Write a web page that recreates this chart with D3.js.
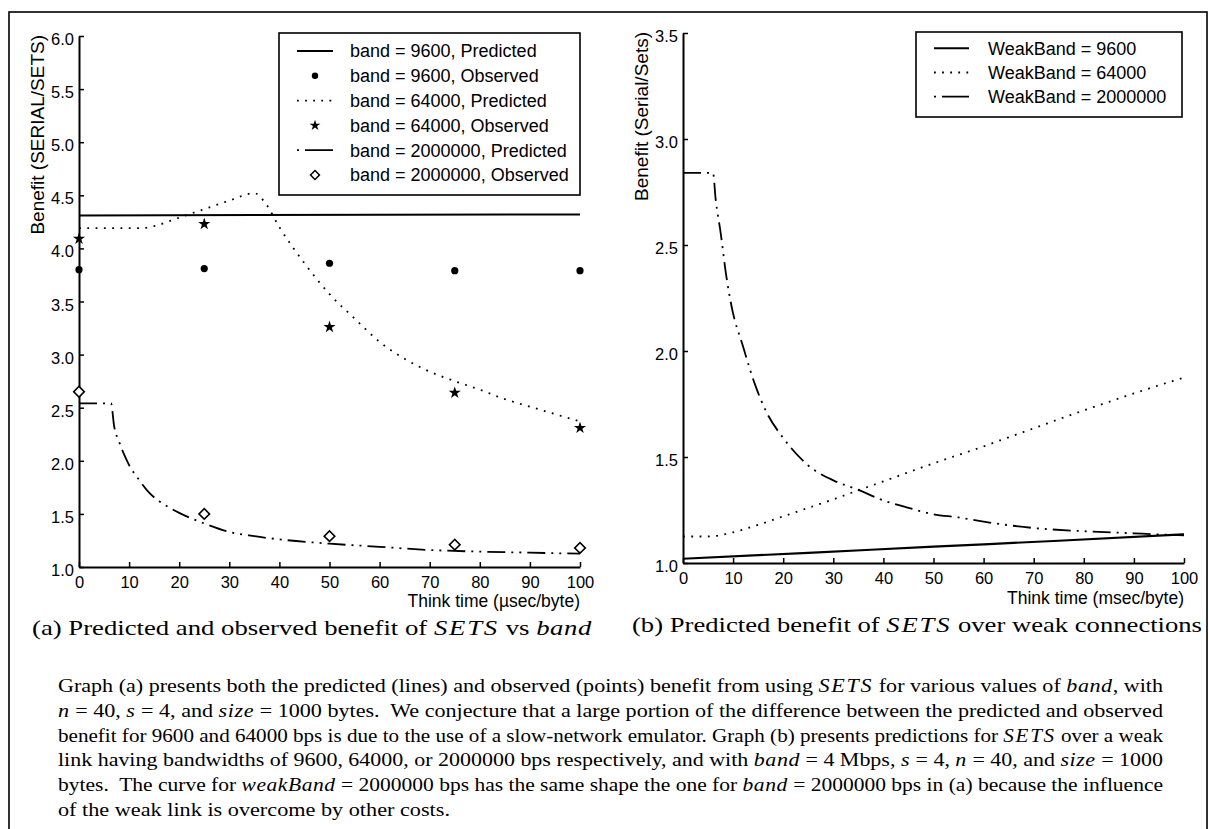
<!DOCTYPE html>
<html><head><meta charset="utf-8">
<script src="https://cdn.jsdelivr.net/npm/d3@7"></script>
<style>body{margin:0;background:#fff} svg{display:block}</style>
</head><body>
<script>
// ---------- DATA : graph (a) ----------
const obsThink      = [0, 25, 50, 75, 100];
const obs9600       = [3.80, 3.81, 3.86, 3.79, 3.79];
const obs64000      = [4.09, 4.23, 3.26, 2.64, 2.31];
const obs2000000    = [2.65, 1.50, 1.29, 1.21, 1.18];

const pred9600T     = [0, 100];
const pred9600      = [4.31, 4.32];
const pred64000T    = [0, 5, 10, 12.5, 15, 20, 25, 30, 35, 37, 40, 45, 50, 55, 60, 65, 70, 75, 80, 85, 90, 95, 100];
const pred64000     = [4.19, 4.19, 4.19, 4.19, 4.21, 4.29, 4.37, 4.45, 4.52, 4.44, 4.20, 3.86, 3.57, 3.34, 3.12, 2.96, 2.84, 2.75, 2.67, 2.58, 2.51, 2.44, 2.37];
const pred2000000T  = [0, 6.4, 7, 8, 9, 10, 12, 14, 16, 18, 20, 25, 30, 35, 40, 50, 60, 70, 80, 90, 100];
const pred2000000   = [2.54, 2.54, 2.33, 2.18, 2.06, 1.96, 1.82, 1.70, 1.62, 1.56, 1.51, 1.41, 1.33, 1.29, 1.26, 1.22, 1.19, 1.16, 1.145, 1.135, 1.125];

// ---------- DATA : graph (b) ----------
const weak9600T     = [0, 25, 50, 75, 100];
const weak9600      = [1.02, 1.048, 1.077, 1.105, 1.135];
const weak64000T    = [0, 5, 10, 15, 20, 25, 30, 35, 40, 45, 50, 55, 60, 65, 70, 75, 80, 85, 90, 95, 100];
const weak64000     = [1.125, 1.125, 1.145, 1.18, 1.22, 1.26, 1.30, 1.343, 1.385, 1.428, 1.47, 1.51, 1.55, 1.593, 1.635, 1.678, 1.72, 1.76, 1.80, 1.838, 1.875];
const weak2000000T  = [0, 6, 6.5, 7.5, 8.6, 9.7, 12, 14.4, 16.7, 20, 25, 30, 35, 40, 45, 50, 55, 60, 70, 80, 90, 100];
const weak2000000   = [2.84, 2.84, 2.72, 2.56, 2.36, 2.21, 2.02, 1.84, 1.71, 1.59, 1.46, 1.39, 1.345, 1.295, 1.26, 1.23, 1.215, 1.195, 1.165, 1.15, 1.14, 1.13];

// ---------- TICKS / LABELS ----------
const xTickValues  = [0, 10, 20, 30, 40, 50, 60, 70, 80, 90, 100];
const yTickValuesA = [1.0, 1.5, 2.0, 2.5, 3.0, 3.5, 4.0, 4.5, 5.0, 5.5, 6.0];
const yTickValuesB = [1.0, 1.5, 2.0, 2.5, 3.0, 3.5];
const yTitleA = "Benefit (SERIAL/SETS)";
const yTitleB = "Benefit (Serial/Sets)";
const xTitleA = "Think time (\u00B5sec/byte)";
const xTitleB = "Think time (msec/byte)";
const legendA = ["band = 9600, Predicted", "band = 9600, Observed", "band = 64000, Predicted",
                 "band = 64000, Observed", "band = 2000000, Predicted", "band = 2000000, Observed"];
const legendB = ["WeakBand = 9600", "WeakBand = 64000", "WeakBand = 2000000"];
const captionA = "(a) Predicted and observed benefit of *SETS* vs *band*";
const captionB = "(b) Predicted benefit of *SETS* over weak connections";
const paragraph = [
  "Graph (a) presents both the predicted (lines) and observed (points) benefit from using *SETS* for various values of *band*, with",
  "*n* = 40, *s* = 4, and *size* = 1000 bytes.  We conjecture that a large portion of the difference between the predicted and observed",
  "benefit for 9600 and 64000 bps is due to the use of a slow-network emulator. Graph (b) presents predictions for *SETS* over a weak",
  "link having bandwidths of 9600, 64000, or 2000000 bps respectively, and with *band* = 4 Mbps, *s* = 4, *n* = 40, and *size* = 1000",
  "bytes.  The curve for *weakBand* = 2000000 bps has the same shape the one for *band* = 2000000 bps in (a) because the influence",
  "of the weak link is overcome by other costs."
];

// ---------- DRAWING ----------
const W = 1209, H = 829;
const SANS = "'Liberation Sans', Arial, Helvetica, sans-serif";
const SERIF = "'Liberation Serif', 'Times New Roman', serif";
const DOT = "1.8,6.5", DASHDOT = "18,6,2,6,2,6";

const svg = d3.select("body").append("svg").attr("width", W).attr("height", H);

// outer frame
svg.append("rect").attr("x", 9).attr("y", 12).attr("width", 1198).attr("height", 840)
  .attr("fill", "none").attr("stroke", "#000").attr("stroke-width", 1.6);

const xA = d3.scaleLinear([0, 100], [79, 580]);
const yA = d3.scaleLinear([1, 6], [567, 36]);
const xB = d3.scaleLinear([0, 100], [683, 1184]);
const yB = d3.scaleLinear([1, 3.5], [563, 33]);

function axes(x, y, yTicks, yTitle, xTitle, yTitleX, xTitleBase) {
  const gy = svg.append("g").attr("transform", `translate(${x.range()[0]},0)`)
    .call(d3.axisLeft(y).tickValues(yTicks).tickSize(-5).tickSizeOuter(0).tickPadding(5).tickFormat(d3.format(".1f")));
  const gx = svg.append("g").attr("transform", `translate(0,${y.range()[0]})`)
    .call(d3.axisBottom(x).tickValues(xTickValues).tickSize(-5).tickSizeOuter(0).tickPadding(9).tickFormat(d3.format("d")));
  [gy, gx].forEach(g => {
    g.attr("font-family", SANS).attr("font-size", 16.5);
    g.select(".domain").attr("stroke-width", 2);
    g.selectAll(".tick line").attr("stroke-width", 1.5);
    g.selectAll("text").attr("fill", "#000");
  });
  gy.selectAll("text").attr("dy", "0.52em");
  svg.append("text").attr("transform", `translate(${yTitleX},${y.range()[1] - 1}) rotate(-90)`)
    .attr("text-anchor", "end").attr("font-family", SANS).attr("font-size", 19).text(yTitle);
  svg.append("text").attr("x", x.range()[1]).attr("y", xTitleBase).attr("text-anchor", "end")
    .attr("font-family", SANS).attr("font-size", 17.5).text(xTitle);
}
axes(xA, yA, yTickValuesA, yTitleA, xTitleA, 44, 607);
axes(xB, yB, yTickValuesB, yTitleB, xTitleB, 648, 604);

function curve(x, y, ts, vs, dash, w) {
  const line = d3.line().x(d => x(d[0])).y(d => y(d[1])).curve(d3.curveMonotoneX);
  svg.append("path").attr("d", line(d3.zip(ts, vs))).attr("fill", "none").attr("stroke", "#000")
    .attr("stroke-width", w).attr("stroke-dasharray", dash);
}
const starSym = d3.symbol(d3.symbolStar, 46);
const diaSym = d3.symbol(d3.symbolSquare, 56);
function markers(x, y, ts, vs, kind) {
  const g = svg.append("g");
  const pts = d3.zip(ts, vs);
  if (kind === "dot") {
    g.selectAll("circle").data(pts).join("circle").attr("cx", d => x(d[0])).attr("cy", d => y(d[1])).attr("r", 3.6);
  } else if (kind === "star") {
    g.selectAll("path").data(pts).join("path").attr("d", starSym)
      .attr("transform", d => `translate(${x(d[0])},${y(d[1])})`);
  } else {
    g.selectAll("path").data(pts).join("path").attr("d", diaSym).attr("fill", "#fff").attr("stroke", "#000").attr("stroke-width", 1.6)
      .attr("transform", d => `translate(${x(d[0])},${y(d[1])}) rotate(45)`);
  }
}

// graph (a)
curve(xA, yA, pred9600T, pred9600, null, 2);
curve(xA, yA, pred64000T, pred64000, DOT, 1.8);
curve(xA, yA, pred2000000T, pred2000000, DASHDOT, 1.8);
markers(xA, yA, obsThink, obs9600, "dot");
markers(xA, yA, obsThink, obs64000, "star");
markers(xA, yA, obsThink, obs2000000, "diamond");

// graph (b)
curve(xB, yB, weak9600T, weak9600, null, 2.2);
curve(xB, yB, weak64000T, weak64000, DOT, 1.8);
curve(xB, yB, weak2000000T, weak2000000, DASHDOT, 1.8);

// legends
function legend(x0, y0, x1, y1, row0, step, labels, kinds, sx0, sx1, tx) {
  const g = svg.append("g");
  g.append("rect").attr("x", x0).attr("y", y0).attr("width", x1 - x0).attr("height", y1 - y0)
    .attr("fill", "#fff").attr("stroke", "#000").attr("stroke-width", 1.6);
  labels.forEach((lab, i) => {
    const yy = row0 + i * step, k = kinds[i], mx = (sx0 + sx1) / 2;
    if (k === "solid" || k === "dot-line" || k === "dashdot") {
      g.append("line").attr("x1", sx0).attr("x2", sx1).attr("y1", yy).attr("y2", yy).attr("stroke", "#000")
        .attr("stroke-width", k === "solid" ? 2 : 1.8)
        .attr("stroke-dasharray", k === "solid" ? null : (k === "dot-line" ? "1.8,6.3" : "2,6,40"));
    } else if (k === "dot") {
      g.append("circle").attr("cx", mx).attr("cy", yy).attr("r", 3.2);
    } else if (k === "star") {
      g.append("path").attr("d", d3.symbol(d3.symbolStar, 36)).attr("transform", `translate(${mx},${yy})`);
    } else {
      g.append("path").attr("d", d3.symbol(d3.symbolSquare, 40)).attr("fill", "#fff").attr("stroke", "#000")
        .attr("stroke-width", 1.5).attr("transform", `translate(${mx},${yy}) rotate(45)`);
    }
    g.append("text").attr("x", tx).attr("y", yy).attr("dy", "0.35em").attr("font-family", SANS)
      .attr("font-size", 18).text(lab);
  });
}
legend(279, 33, 580, 195, 51, 24.8, legendA, ["solid", "dot", "dot-line", "star", "dashdot", "diamond"], 297, 333, 350);
legend(916, 32, 1182, 117, 48.3, 24.2, legendB, ["solid", "dot-line", "dashdot"], 934, 969, 988);

// rich text with *italic* parts
function rich(str, x, y, size, len, adjust) {
  const t = svg.append("text").attr("x", x).attr("y", y).attr("font-family", SERIF).attr("font-size", size)
    .attr("xml:space", "preserve");
  str.split("*").forEach((part, i) => {
    if (!part) return;
    const ts = t.append("tspan").text(part);
    if (i % 2 === 1) ts.attr("font-style", "italic").attr("letter-spacing", part.toUpperCase() === part ? 1.5 : 0.5);
  });
  if (len) t.attr("textLength", len).attr("lengthAdjust", adjust);
  return t;
}
rich(captionA, 32, 635, 22, 560, "spacingAndGlyphs");
rich(captionB, 632, 632, 22, 570, "spacingAndGlyphs");
paragraph.forEach((ln, i) => {
  const last = i === paragraph.length - 1;
  rich(ln, 58, 692 + i * 24.8, 19, last ? 392 : 1105, "spacingAndGlyphs");
});
</script>
</body></html>
